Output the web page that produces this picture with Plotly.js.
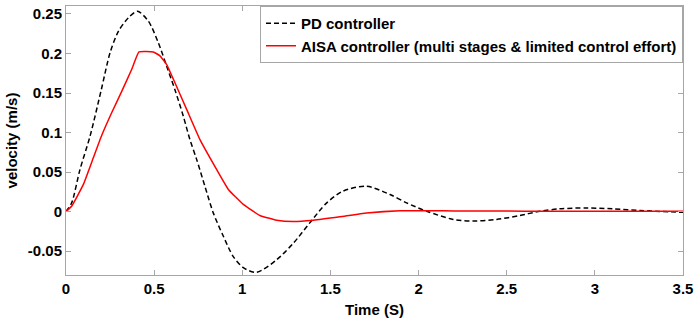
<!DOCTYPE html>
<html>
<head>
<meta charset="utf-8">
<script src="https://cdn.plot.ly/plotly-3.0.1.min.js"></script>
<style>html,body{margin:0;padding:0;background:#fff;}#chart{width:694px;height:324px;}</style>
</head>
<body>
<div id="chart"></div>
<script>
// PD controller (dashed black)
const pdTime = [0, 0.032, 0.079, 0.136, 0.2, 0.25, 0.297, 0.353, 0.405, 0.467, 0.524, 0.571, 0.618, 0.665, 0.703, 0.741, 0.788, 0.836, 0.892, 0.949, 1.006, 1.08, 1.195, 1.29, 1.384, 1.479, 1.573, 1.705, 1.838, 1.932, 2.046, 2.197, 2.31, 2.443, 2.575, 2.689, 2.80, 2.953, 3.10, 3.256, 3.5];
const pdVel  = [0, 0.011, 0.053, 0.095, 0.154, 0.201, 0.228, 0.245, 0.2535, 0.241, 0.2135, 0.184, 0.154, 0.121, 0.091, 0.066, 0.032, -0.002, -0.031, -0.057, -0.071, -0.077, -0.061, -0.040, -0.014, 0.011, 0.026, 0.032, 0.0215, 0.011, 0.0004, -0.010, -0.012, -0.010, -0.005, 0.0004, 0.0034, 0.0046, 0.0034, 0.0013, -0.001];
// AISA controller (solid red)
const aisaTime = [0, 0.032, 0.098, 0.155, 0.2, 0.259, 0.316, 0.373, 0.414, 0.495, 0.533, 0.571, 0.618, 0.685, 0.76, 0.855, 0.921, 1.006, 1.10, 1.195, 1.29, 1.403, 1.554, 1.705, 1.895, 2.2, 2.6, 3.0, 3.5];
const aisaVel  = [0, 0.0067, 0.034, 0.068, 0.095, 0.125, 0.152, 0.180, 0.202, 0.202, 0.197, 0.186, 0.163, 0.129, 0.091, 0.053, 0.028, 0.009, -0.005, -0.011, -0.0127, -0.011, -0.0067, -0.002, 0.001, 0.0008, 0.0005, 0.0004, 0.0003];
const seriesNames = ["PD controller", "AISA controller (multi stages & limited control effort)"];
const xTicks = [0, 0.5, 1, 1.5, 2, 2.5, 3, 3.5];
const xTickText = ["0", "0.5", "1", "1.5", "2", "2.5", "3", "3.5"];
const yTicks = [-0.05, 0, 0.05, 0.1, 0.15, 0.2, 0.25];
const yTickText = ["-0.05", "0", "0.05", "0.1", "0.15", "0.2", "0.25"];

const font = {family: "Liberation Sans, Arial, sans-serif", size: 15, color: "#000", weight: "bold"};
const traces = [
  {x: pdTime, y: pdVel, name: seriesNames[0], mode: "lines",
   line: {color: "#000", width: 1.5, dash: "5px,3px", shape: "spline", smoothing: 0.8}},
  {x: aisaTime, y: aisaVel, name: seriesNames[1], mode: "lines",
   line: {color: "#ff0000", width: 1.5, shape: "spline", smoothing: 0.35}}
];
const axisCommon = {
  showline: true, linecolor: "#a6a6a6", linewidth: 1, mirror: "ticks",
  ticks: "inside", ticklen: 5, tickcolor: "#a6a6a6", tickwidth: 1,
  showgrid: false, zeroline: false, tickfont: font
};
const layout = {
  width: 694, height: 324,
  margin: {l: 66, r: 11, t: 6, b: 49},
  paper_bgcolor: "#fff", plot_bgcolor: "#fff",
  font: font,
  xaxis: Object.assign({}, axisCommon, {range: [0, 3.5], tickvals: xTicks, ticktext: xTickText,
    title: {text: "Time (S)", font: font, standoff: 8}}),
  yaxis: Object.assign({}, axisCommon, {range: [-0.0803, 0.2601], tickvals: yTicks, ticktext: yTickText,
    title: {text: "velocity (m/s)", font: font, standoff: 6}}),
  legend: {x: 1, xanchor: "right", y: 1, yanchor: "top", bgcolor: "#fff",
    bordercolor: "#a6a6a6", borderwidth: 1, font: font, itemwidth: 30, tracegroupgap: 0},
  showlegend: true
};
Plotly.newPlot("chart", traces, layout, {displayModeBar: false, staticPlot: true});
</script>
</body>
</html>
